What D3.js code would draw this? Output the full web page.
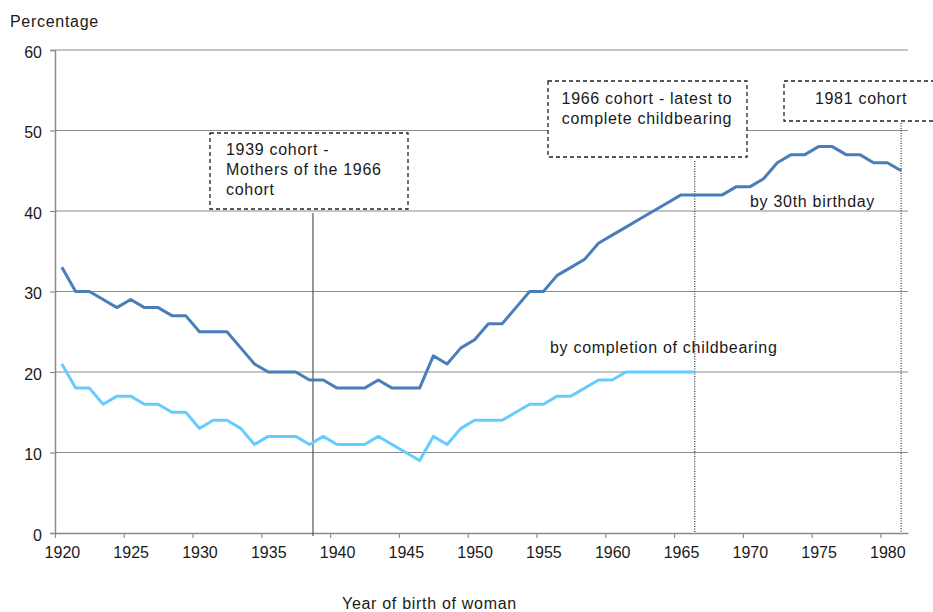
<!DOCTYPE html>
<html>
<head>
<meta charset="utf-8">
<script src="https://cdn.jsdelivr.net/npm/d3@7"></script>
<style>
  body { margin: 0; background: #fff; }
  svg { font-family: "Liberation Sans", Arial, sans-serif; }
  .lbl { font-size: 16px; fill: #1a1a1a; letter-spacing: 0.7px; }
</style>
</head>
<body>
<svg></svg>
<script>

// years of birth, 1920 - 1981
const years = d3.range(1920, 1982)

// % childless by 30th birthday (1920 - 1981)
const by30th = [33, 30, 30, 29, 28, 29, 28, 28, 27, 27,
                25, 25, 25, 23, 21, 20, 20, 20, 19, 19,
                18, 18, 18, 19, 18, 18, 18, 22, 21, 23,
                24, 26, 26, 28, 30, 30, 32, 33, 34, 36,
                37, 38, 39, 40, 41, 42, 42, 42, 42, 43,
                43, 44, 46, 47, 47, 48, 48, 47, 47, 46,
                46, 45]

// % childless by completion of childbearing (1920 - 1966)
const byCompletion = [21, 18, 18, 16, 17, 17, 16, 16, 15, 15,
                      13, 14, 14, 13, 11, 12, 12, 12, 11, 12,
                      11, 11, 11, 12, 11, 10, 9, 12, 11, 13,
                      14, 14, 14, 15, 16, 16, 17, 17, 18, 19,
                      19, 20, 20, 20, 20, 20, 20]

const yTicks = [0, 10, 20, 30, 40, 50, 60]
const xTickLabels = [1920, 1925, 1930, 1935, 1940, 1945, 1950, 1955, 1960, 1965, 1970, 1975, 1980]

// reference cohorts (the 1939 marker sits a little left of the 1939 point in the original)
const cohortLines = [1938.25, 1966, 1981]

const width = 933,
      height = 612

const svg = d3.select("svg")
  .attr("width", width)
  .attr("height", height)

const x_scale = d3.scaleLinear()
  .domain([1919.5, 1981.5])
  .range([55, 908])

const y_scale = d3.scaleLinear()
  .domain([0, 60])
  .range([533, 50])

// gridlines
svg.append("g")
  .selectAll("line")
  .data(yTicks.filter(d => d > 0))
  .join("line")
    .attr("x1", x_scale.range()[0])
    .attr("x2", x_scale.range()[1])
    .attr("y1", d => y_scale(d))
    .attr("y2", d => y_scale(d))
    .attr("stroke", "#8a8a8a")
    .attr("stroke-width", 1.2)

// y axis
const yAxis = d3.axisLeft(y_scale).tickValues(yTicks).tickSize(5).tickPadding(8)
const gy = svg.append("g")
  .attr("transform", `translate(${x_scale.range()[0]},0)`)
  .call(yAxis)
gy.select(".domain").attr("stroke", "#8a8a8a").attr("stroke-width", 1.5)
gy.selectAll(".tick line").attr("stroke", "#8a8a8a").attr("stroke-width", 1.2)
gy.selectAll("text").attr("font-size", 16).attr("fill", "#1a1a1a").attr("font-family", null).attr("dy", "0.45em")

// x axis: tick marks on category boundaries, labels on the categories
const xTicks = d3.axisBottom(x_scale)
  .tickValues(xTickLabels.map(d => d - 0.5))
  .tickSize(5)
  .tickSizeOuter(0)
  .tickFormat("")
const gx = svg.append("g")
  .attr("transform", `translate(0,${y_scale(0)})`)
  .call(xTicks)
gx.select(".domain").attr("stroke", "#8a8a8a").attr("stroke-width", 1.5)
gx.selectAll(".tick line").attr("stroke", "#8a8a8a").attr("stroke-width", 1.2)

const xLabels = d3.axisBottom(x_scale)
  .tickValues(xTickLabels)
  .tickSize(0)
  .tickPadding(14)
  .tickFormat(d3.format("d"))
const gxl = svg.append("g")
  .attr("transform", `translate(0,${y_scale(0)})`)
  .call(xLabels)
gxl.select(".domain").remove()
gxl.selectAll("text").attr("font-size", 16).attr("fill", "#1a1a1a").attr("font-family", null)

// cohort marker lines
svg.append("line")
  .attr("x1", x_scale(cohortLines[0])).attr("x2", x_scale(cohortLines[0]))
  .attr("y1", 213).attr("y2", y_scale(0) + 3)
  .attr("stroke", "#555").attr("stroke-width", 1.2)

svg.append("line")
  .attr("x1", x_scale(cohortLines[1])).attr("x2", x_scale(cohortLines[1]))
  .attr("y1", 161).attr("y2", y_scale(0))
  .attr("stroke", "#333").attr("stroke-width", 1.2).attr("stroke-dasharray", "1,1.5")

svg.append("line")
  .attr("x1", x_scale(cohortLines[2])).attr("x2", x_scale(cohortLines[2]))
  .attr("y1", 123).attr("y2", y_scale(0))
  .attr("stroke", "#333").attr("stroke-width", 1.2).attr("stroke-dasharray", "1,1.5")

// series
const line = d3.line()
  .x((d, i) => x_scale(years[i]))
  .y(d => y_scale(d))

svg.append("path")
  .datum(byCompletion)
  .attr("d", line)
  .attr("fill", "none")
  .attr("stroke", "#66ccff")
  .attr("stroke-width", 3)
  .attr("stroke-linejoin", "round")

svg.append("path")
  .datum(by30th)
  .attr("d", line)
  .attr("fill", "none")
  .attr("stroke", "#4a7ebb")
  .attr("stroke-width", 3)
  .attr("stroke-linejoin", "round")

// annotation boxes
const boxes = [
  {x: 210, y: 133, w: 198, h: 76, lines: ["1939 cohort -", "Mothers of the 1966", "cohort"], anchor: "start", tx: 226, ty: 155},
  {x: 548, y: 81, w: 199, h: 76, lines: ["1966 cohort - latest to", "complete childbearing"], anchor: "middle", tx: 647, ty: 104},
  {x: 784, y: 81, w: 170, h: 40, lines: ["1981 cohort"], anchor: "middle", tx: 861, ty: 104}
]

boxes.forEach(b => {
  svg.append("rect")
    .attr("x", b.x).attr("y", b.y)
    .attr("width", b.w).attr("height", b.h)
    .attr("fill", "#fff")
    .attr("stroke", "#222")
    .attr("stroke-width", 1.3)
    .attr("stroke-dasharray", "4,3")
  svg.append("text")
    .attr("class", "lbl")
    .attr("text-anchor", b.anchor)
    .selectAll("tspan")
    .data(b.lines)
    .join("tspan")
      .attr("x", b.tx)
      .attr("y", (d, i) => b.ty + i * 20)
      .text(d => d)
})

// series labels
svg.append("text").attr("class", "lbl")
  .attr("x", 750).attr("y", 207)
  .text("by 30th birthday")

svg.append("text").attr("class", "lbl")
  .attr("x", 550).attr("y", 353)
  .text("by completion of childbearing")

// axis titles
svg.append("text").attr("class", "lbl")
  .attr("x", 10).attr("y", 27)
  .text("Percentage")

svg.append("text").attr("class", "lbl")
  .attr("x", 342).attr("y", 609)
  .text("Year of birth of woman")

</script>
</body>
</html>
